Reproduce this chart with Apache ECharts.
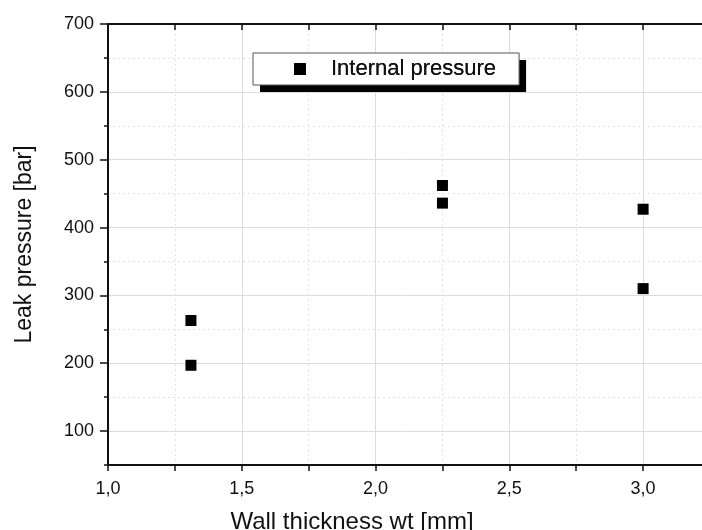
<!DOCTYPE html>
<html>
<head>
<meta charset="utf-8">
<script src="https://cdn.jsdelivr.net/npm/echarts@6/dist/echarts.min.js"></script>
<style>
  html, body { margin: 0; padding: 0; background: #fff; }
  #chart { width: 702px; height: 530px; }
</style>
</head>
<body>
<div id="chart"></div>
<script>
// measured points: wall thickness [mm] / leak pressure [bar]
var wallThickness = [1.31, 1.31, 2.25, 2.25, 3.0, 3.0];
var leakPressure = [263, 197, 462, 436, 427, 310];
var xRange = [1, 3.25];
var yRange = [50, 700];
var seriesName = 'Internal pressure';

var points = [];
for (var i = 0; i < wallThickness.length; i++) {
	points.push([wallThickness[i], leakPressure[i]]);
}

var FONT = 'Liberation Sans, Arial, sans-serif';
var gridSolid = '#dcdcdc';
var gridDot = '#e2e2e2';
var none = 'rgba(0,0,0,0)';

// legend box, drawn twice: once for the black drop shadow, once for the framed box on top
var legendBase = {
	data: [seriesName],
	left: 253,
	top: 53,
	padding: [5, 23, 5, 41],
	backgroundColor: '#fff',
	icon: 'rect',
	itemWidth: 12,
	itemHeight: 12,
	selectedMode: false,
	textStyle: { fontFamily: FONT, fontSize: 22, color: '#111', padding: [0, 0, 0, 20] }
};

var myChart = echarts.init(document.getElementById('chart'));
var option = {
	backgroundColor: '#fff',
	animation: false,
	textStyle: { fontFamily: FONT },
	grid: { left: 108, top: 24, right: -8, bottom: 65, outerBoundsMode: 'none', containLabel: false },
	legend: [
		echarts.util.merge({ borderWidth: 0, shadowColor: '#000', shadowBlur: 0, shadowOffsetX: 7, shadowOffsetY: 7 }, legendBase),
		echarts.util.merge({ borderColor: '#555', borderWidth: 1 }, legendBase)
	],
	xAxis: [{
		type: 'value',
		position: 'bottom',
		min: xRange[0],
		max: xRange[1],
		interval: 0.25,
		name: 'Wall thickness wt [mm]',
		nameLocation: 'middle',
		nameGap: 45,
		nameTextStyle: { fontFamily: FONT, fontSize: 24, color: '#111', padding: [0, 114, 0, 0] },
		axisLine: { lineStyle: { color: '#111', width: 2 } },
		axisTick: { inside: false, length: 6, lineStyle: { color: '#111', width: 1.5 } },
		axisLabel: {
			interval: 0,
			margin: 15,
			fontSize: 18,
			color: '#111',
			fontFamily: FONT,
			formatter: function (v) {
				// only label the half-mm steps, decimal comma
				if (Math.abs(v * 2 - Math.round(v * 2)) > 1e-6) return '';
				return v.toFixed(1).replace('.', ',');
			}
		},
		splitLine: { show: true, lineStyle: { color: [gridSolid, none], width: 1 } }
	}, {
		type: 'value',
		position: 'top',
		min: xRange[0],
		max: xRange[1],
		interval: 0.25,
		axisLine: { lineStyle: { color: '#111', width: 2 } },
		axisTick: { inside: true, length: 6, lineStyle: { color: '#111', width: 1.5 } },
		axisLabel: { show: false },
		splitLine: { show: true, lineStyle: { color: [none, gridDot], type: [2, 3], width: 1 } }
	}],
	yAxis: [{
		type: 'value',
		position: 'left',
		min: yRange[0],
		max: yRange[1],
		name: 'Leak pressure [bar]',
		nameLocation: 'middle',
		nameGap: 72,
		nameTextStyle: { fontFamily: FONT, fontSize: 23, color: '#111' },
		axisLine: { show: true, lineStyle: { color: '#111', width: 2 } },
		axisTick: { show: true, inside: false, length: 8, lineStyle: { color: '#111', width: 1.5 } },
		axisLabel: { showMinLabel: false, margin: 14, fontSize: 18, color: '#111', fontFamily: FONT },
		splitLine: { show: true, lineStyle: { color: gridSolid, width: 1 } }
	}, {
		// minor ticks and dotted lines every 50 bar
		type: 'value',
		position: 'left',
		min: yRange[0],
		max: yRange[1],
		interval: 50,
		axisLine: { show: false },
		axisTick: { show: true, inside: false, length: 4, lineStyle: { color: '#111', width: 1.5 } },
		axisLabel: { show: false },
		splitLine: { show: true, lineStyle: { color: [gridDot, none], type: [2, 3], width: 1 } }
	}, {
		type: 'value',
		position: 'right',
		min: yRange[0],
		max: yRange[1],
		axisLine: { show: true, lineStyle: { color: '#111', width: 2 } },
		axisTick: { show: true, inside: true, length: 8, lineStyle: { color: '#111', width: 1.5 } },
		axisLabel: { show: false },
		splitLine: { show: false }
	}],
	series: [{
		name: seriesName,
		type: 'scatter',
		xAxisIndex: 0,
		yAxisIndex: 0,
		symbol: 'rect',
		symbolSize: 11,
		itemStyle: { color: '#000', opacity: 1 },
		data: points
	}]
};
myChart.setOption(option);
</script>
</body>
</html>
